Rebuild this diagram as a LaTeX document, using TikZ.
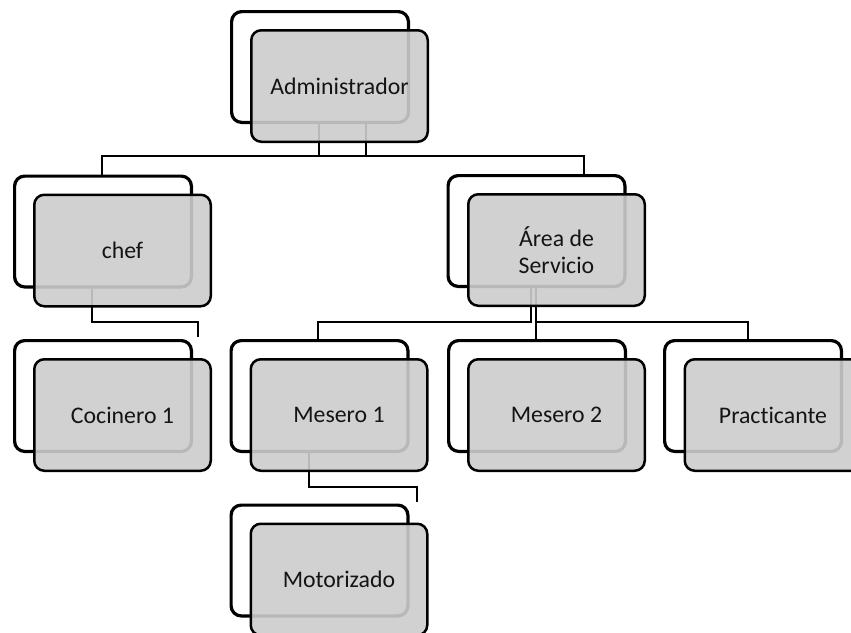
\documentclass[tikz,border=0pt]{standalone}
\usepackage{fontspec}
\setmainfont{Carlito}[Ligatures={NoCommon}]
\usetikzlibrary{calc}
\definecolor{boxgray}{RGB}{204,204,204}
\definecolor{txt}{RGB}{20,20,20}
\tikzset{
  backbox/.style={draw=black, line width=3.2pt, fill=white, rounded corners=10pt,
    minimum width=176.8pt, minimum height=110.8pt, inner sep=0pt},
  frontbox/.style={draw=black, line width=2.5pt, fill=boxgray, fill opacity=0.9, text opacity=1,
    rounded corners=10pt, minimum width=176.5pt, minimum height=111.5pt, inner sep=0pt,
    font=\fontsize{23.8}{27}\selectfont, align=center, text=txt},
  conn/.style={draw=black, line width=2pt}
}
\begin{document}
\begin{tikzpicture}[x=1pt,y=-1pt]
\useasboundingbox (0,0) rectangle (851,632);
% back boxes
\node[backbox] (badmin) at (320,67) {};
\node[backbox] (bchef) at (103,231.5) {};
\node[backbox] (barea) at (536.5,231) {};
\node[backbox] (bcoc) at (103,396) {};
\node[backbox] (bm1) at (319.5,396) {};
\node[backbox] (bm2) at (537,396) {};
\node[backbox] (bprac) at (753,396) {};
\node[backbox] (bmot) at (319.5,560.5) {};
% connectors
\draw[conn] ([xshift=-1pt]badmin.south) |- ($(barea.north)+(47.5,-18)$) -- ([xshift=47.5pt]barea.north);
\draw[conn] ([xshift=46pt]badmin.south) |- ($(bchef.north)+(-1,-19)$) -- ([xshift=-1pt]bchef.north);
\draw[conn] ([xshift=-11pt]bchef.south) |- ($(bcoc.north)+(95,-17)$) -- ($(bcoc.north)+(95,-2)$);
\draw[conn] ([xshift=-5.5pt]barea.south) |- ($(bm1.north)+(-1.5,-17.5)$) -- ([xshift=-1.5pt]bm1.north);
\draw[conn] ([xshift=-0.5pt]barea.south) -- ([xshift=-1pt]bm2.north);
\draw[conn] ($(barea.south)+(-0.5,34)$) -| ([xshift=-5pt]bprac.north);
\draw[conn] ([xshift=-10.5pt]bm1.south) |- ($(bmot.north)+(97,-17)$) -- ($(bmot.north)+(97,-2)$);
% front boxes
\node[frontbox] (fadmin) at ($(badmin)+(19.5,19)$) {Administrador};
\node[frontbox] (fchef) at ($(bchef)+(19.5,19)$) {chef};
\node[frontbox] (farea) at ($(barea)+(20,19)$) {Área de\\Servicio};
\node[frontbox] (fcoc) at ($(bcoc)+(19.5,19)$) {Cocinero 1};
\node[frontbox] (fm1) at ($(bm1)+(19.5,19)$) {Mesero 1};
\node[frontbox] (fm2) at ($(bm2)+(19.5,19)$) {Mesero 2};
\node[frontbox] (fprac) at ($(bprac)+(20,19)$) {Practicante};
\node[frontbox] (fmot) at ($(bmot)+(19.5,19)$) {Motorizado};
\end{tikzpicture}
\end{document}
